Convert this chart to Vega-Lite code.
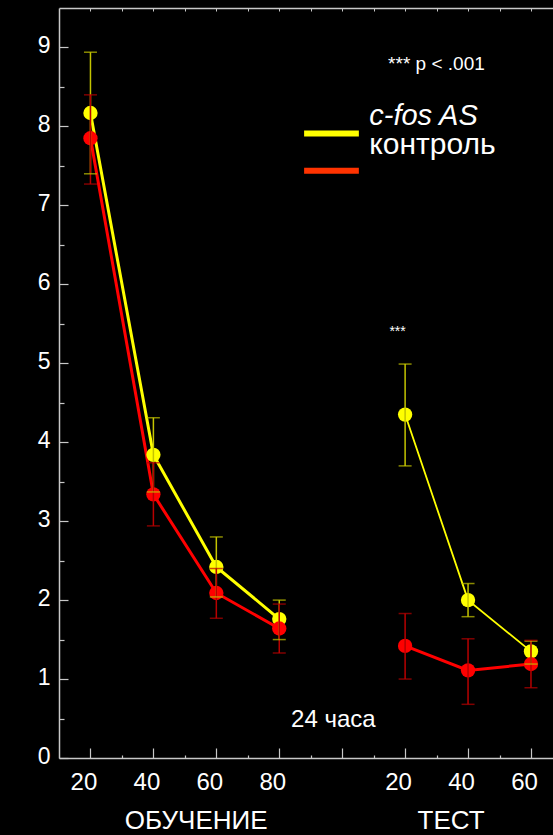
{
  "$schema": "https://vega.github.io/schema/vega-lite/v6.json",
  "width": 494,
  "height": 750,
  "autosize": {"type": "none"},
  "padding": {"left": 59, "top": 8, "right": 0, "bottom": 77},
  "background": "#000000",
  "config": {"view": {"stroke": null}, "font": "Liberation Sans", "axis": {"grid": false}},
  "data": {
    "values": [
      {"group": "c-fos AS", "phase": "ОБУЧЕНИЕ", "trial": 20, "pos": 20, "mean": 8.17, "lo": 7.40, "hi": 8.94},
      {"group": "c-fos AS", "phase": "ОБУЧЕНИЕ", "trial": 40, "pos": 40, "mean": 3.84, "lo": 3.37, "hi": 4.31},
      {"group": "c-fos AS", "phase": "ОБУЧЕНИЕ", "trial": 60, "pos": 60, "mean": 2.42, "lo": 2.04, "hi": 2.80},
      {"group": "c-fos AS", "phase": "ОБУЧЕНИЕ", "trial": 80, "pos": 80, "mean": 1.76, "lo": 1.50, "hi": 2.00},
      {"group": "c-fos AS", "phase": "ТЕСТ", "trial": 20, "pos": 120, "mean": 4.35, "lo": 3.70, "hi": 4.99},
      {"group": "c-fos AS", "phase": "ТЕСТ", "trial": 40, "pos": 140, "mean": 2.00, "lo": 1.79, "hi": 2.21},
      {"group": "c-fos AS", "phase": "ТЕСТ", "trial": 60, "pos": 160, "mean": 1.35, "lo": 1.19, "hi": 1.48},
      {"group": "контроль", "phase": "ОБУЧЕНИЕ", "trial": 20, "pos": 20, "mean": 7.85, "lo": 7.27, "hi": 8.40},
      {"group": "контроль", "phase": "ОБУЧЕНИЕ", "trial": 40, "pos": 40, "mean": 3.34, "lo": 2.94, "hi": 3.74},
      {"group": "контроль", "phase": "ОБУЧЕНИЕ", "trial": 60, "pos": 60, "mean": 2.09, "lo": 1.77, "hi": 2.40},
      {"group": "контроль", "phase": "ОБУЧЕНИЕ", "trial": 80, "pos": 80, "mean": 1.64, "lo": 1.33, "hi": 1.95},
      {"group": "контроль", "phase": "ТЕСТ", "trial": 20, "pos": 120, "mean": 1.42, "lo": 1.00, "hi": 1.83},
      {"group": "контроль", "phase": "ТЕСТ", "trial": 40, "pos": 140, "mean": 1.11, "lo": 0.68, "hi": 1.51},
      {"group": "контроль", "phase": "ТЕСТ", "trial": 60, "pos": 160, "mean": 1.19, "lo": 0.89, "hi": 1.49}
    ]
  },
  "layer": [
    {
      "transform": [{"filter": "!(datum.group === 'c-fos AS' && datum.phase === 'ТЕСТ')"}],
      "mark": {"type": "line", "strokeWidth": 3},
      "encoding": {
        "x": {"field": "pos", "type": "quantitative", "scale": {"domain": [10, 167], "nice": false, "zero": false},
          "axis": {"orient": "top", "values": [20, 30, 40, 50, 60, 70, 80, 90, 100, 110, 120, 130, 140, 150, 160], "labels": false, "tickSize": -3, "tickColor": "#c8c8c8", "tickWidth": 1, "domainColor": "#c8c8c8", "domainWidth": 1.5, "title": null}},
        "y": {"field": "mean", "type": "quantitative", "title": null, "scale": {"domain": [0, 9.5], "nice": false, "zero": false},
          "axis": {"values": [0, 0.5, 1, 1.5, 2, 2.5, 3, 3.5, 4, 4.5, 5, 5.5, 6, 6.5, 7, 7.5, 8, 8.5, 9],
            "labelExpr": "datum.value % 1 === 0 ? '' + datum.value : ''",
            "tickSize": {"condition": {"test": "datum.value % 1 === 0", "value": -9}, "value": -5},
            "tickColor": "#c8c8c8", "tickWidth": 1.2, "domainColor": "#c8c8c8", "domainWidth": 1.5,
            "labelColor": "#ffffff", "labelFontSize": 23, "labelPadding": 18, "labelOffset": -2, "title": null}},
        "detail": {"field": "phase"},
        "color": {"field": "group", "type": "nominal", "scale": {"domain": ["c-fos AS", "контроль"], "range": ["#ffff00", "#ff0000"]}, "legend": null}
      }
    },
    {
      "transform": [{"filter": "datum.group === 'c-fos AS' && datum.phase === 'ТЕСТ'"}],
      "mark": {"type": "line", "strokeWidth": 1.8, "color": "#ffff00"},
      "encoding": {
        "x": {"field": "pos", "type": "quantitative", "scale": {"domain": [10, 167], "nice": false, "zero": false}, "axis": null},
        "y": {"field": "mean", "type": "quantitative", "title": null, "scale": {"domain": [0, 9.5], "nice": false, "zero": false}}
      }
    },
    {
      "mark": {"type": "circle", "size": 205, "opacity": 1},
      "encoding": {
        "x": {"field": "pos", "type": "quantitative", "scale": {"domain": [10, 167], "nice": false, "zero": false},
          "axis": {"orient": "bottom", "values": [20, 30, 40, 50, 60, 70, 80, 90, 100, 110, 120, 130, 140, 150, 160],
            "labelExpr": "(datum.value % 20 !== 0 || datum.value === 100) ? '' : (datum.value > 100 ? '' + (datum.value - 100) : datum.label)",
            "tickSize": {"condition": {"test": "datum.value % 20 === 0", "value": -10}, "value": -3},
            "tickColor": "#c8c8c8", "tickWidth": 1.2, "domainColor": "#c8c8c8", "domainWidth": 1.5,
            "labelColor": "#ffffff", "labelFontSize": 24, "labelPadding": 22, "labelOffset": -7, "title": null}},
        "y": {"field": "mean", "type": "quantitative", "title": null, "scale": {"domain": [0, 9.5], "nice": false, "zero": false}},
        "color": {"field": "group", "type": "nominal", "scale": {"domain": ["c-fos AS", "контроль"], "range": ["#ffff00", "#ff0000"]}, "legend": null}
      }
    },
    {
      "mark": {"type": "rule", "strokeWidth": 1.5},
      "encoding": {
        "x": {"field": "pos", "type": "quantitative", "scale": {"domain": [10, 167], "nice": false, "zero": false}, "axis": null},
        "y": {"field": "lo", "type": "quantitative", "title": null, "scale": {"domain": [0, 9.5], "nice": false, "zero": false}},
        "y2": {"field": "hi"},
        "color": {"field": "group", "type": "nominal", "scale": {"domain": ["c-fos AS", "контроль"], "range": ["#c4c400", "#b80000"]}, "legend": null}
      }
    },
    {
      "mark": {"type": "tick", "orient": "horizontal", "size": 13, "thickness": 1.5},
      "encoding": {
        "x": {"field": "pos", "type": "quantitative", "scale": {"domain": [10, 167], "nice": false, "zero": false}, "axis": null},
        "y": {"field": "lo", "type": "quantitative", "title": null, "scale": {"domain": [0, 9.5], "nice": false, "zero": false}},
        "color": {"field": "group", "type": "nominal", "scale": {"domain": ["c-fos AS", "контроль"], "range": ["#c4c400", "#b80000"]}, "legend": null}
      }
    },
    {
      "mark": {"type": "tick", "orient": "horizontal", "size": 13, "thickness": 1.5},
      "encoding": {
        "x": {"field": "pos", "type": "quantitative", "scale": {"domain": [10, 167], "nice": false, "zero": false}, "axis": null},
        "y": {"field": "hi", "type": "quantitative", "title": null, "scale": {"domain": [0, 9.5], "nice": false, "zero": false}},
        "color": {"field": "group", "type": "nominal", "scale": {"domain": ["c-fos AS", "контроль"], "range": ["#c4c400", "#b80000"]}, "legend": null}
      }
    },
    {
      "data": {"values": [{"label": "c-fos AS"}]},
      "mark": {"type": "rule", "strokeWidth": 6, "color": "#ffff00", "strokeCap": "butt"},
      "encoding": {
        "x": {"datum": 87.9, "scale": {"domain": [10, 167], "nice": false, "zero": false}, "axis": null},
        "x2": {"datum": 105.3},
        "y": {"datum": 7.91}
      }
    },
    {
      "data": {"values": [{"label": "контроль"}]},
      "mark": {"type": "rule", "strokeWidth": 6, "color": "#ff3300", "strokeCap": "butt"},
      "encoding": {
        "x": {"datum": 87.9, "scale": {"domain": [10, 167], "nice": false, "zero": false}, "axis": null},
        "x2": {"datum": 105.3},
        "y": {"datum": 7.44}
      }
    },
    {
      "data": {"values": [{"label": "c-fos AS"}]},
      "mark": {"type": "text", "align": "left", "baseline": "alphabetic", "fontSize": 29, "fontStyle": "italic", "color": "#ffffff"},
      "encoding": {
        "x": {"datum": 108.6, "scale": {"domain": [10, 167], "nice": false, "zero": false}, "axis": null},
        "y": {"datum": 8.02},
        "text": {"field": "label"}
      }
    },
    {
      "data": {"values": [{"label": "контроль"}]},
      "mark": {"type": "text", "align": "left", "baseline": "alphabetic", "fontSize": 30, "color": "#ffffff"},
      "encoding": {
        "x": {"datum": 108.6, "scale": {"domain": [10, 167], "nice": false, "zero": false}, "axis": null},
        "y": {"datum": 7.655},
        "text": {"field": "label"}
      }
    },
    {
      "data": {"values": [{"label": "*** p < .001"}]},
      "mark": {"type": "text", "align": "left", "baseline": "alphabetic", "fontSize": 19, "color": "#ffffff"},
      "encoding": {
        "x": {"datum": 114.6, "scale": {"domain": [10, 167], "nice": false, "zero": false}, "axis": null},
        "y": {"datum": 8.71},
        "text": {"field": "label"}
      }
    },
    {
      "data": {"values": [{"label": "***"}]},
      "mark": {"type": "text", "align": "center", "baseline": "alphabetic", "fontSize": 14, "color": "#ffffff"},
      "encoding": {
        "x": {"datum": 117.6, "scale": {"domain": [10, 167], "nice": false, "zero": false}, "axis": null},
        "y": {"datum": 5.34},
        "text": {"field": "label"}
      }
    },
    {
      "data": {"values": [{"label": "24 часа"}]},
      "mark": {"type": "text", "align": "center", "baseline": "alphabetic", "fontSize": 24, "color": "#ffffff"},
      "encoding": {
        "x": {"datum": 97.2, "scale": {"domain": [10, 167], "nice": false, "zero": false}, "axis": null},
        "y": {"datum": 0.39},
        "text": {"field": "label"}
      }
    },
    {
      "data": {"values": [{"label": "ОБУЧЕНИЕ"}]},
      "mark": {"type": "text", "align": "center", "baseline": "alphabetic", "fontSize": 26, "color": "#ffffff"},
      "encoding": {
        "x": {"datum": 53.6, "scale": {"domain": [10, 167], "nice": false, "zero": false}, "axis": null},
        "y": {"datum": -0.9},
        "text": {"field": "label"}
      }
    },
    {
      "data": {"values": [{"label": "ТЕСТ"}]},
      "mark": {"type": "text", "align": "center", "baseline": "alphabetic", "fontSize": 26, "color": "#ffffff"},
      "encoding": {
        "x": {"datum": 134.6, "scale": {"domain": [10, 167], "nice": false, "zero": false}, "axis": null},
        "y": {"datum": -0.9},
        "text": {"field": "label"}
      }
    }
  ],
  "resolve": {"scale": {"color": "independent"}, "axis": {"x": "independent"}}
}
